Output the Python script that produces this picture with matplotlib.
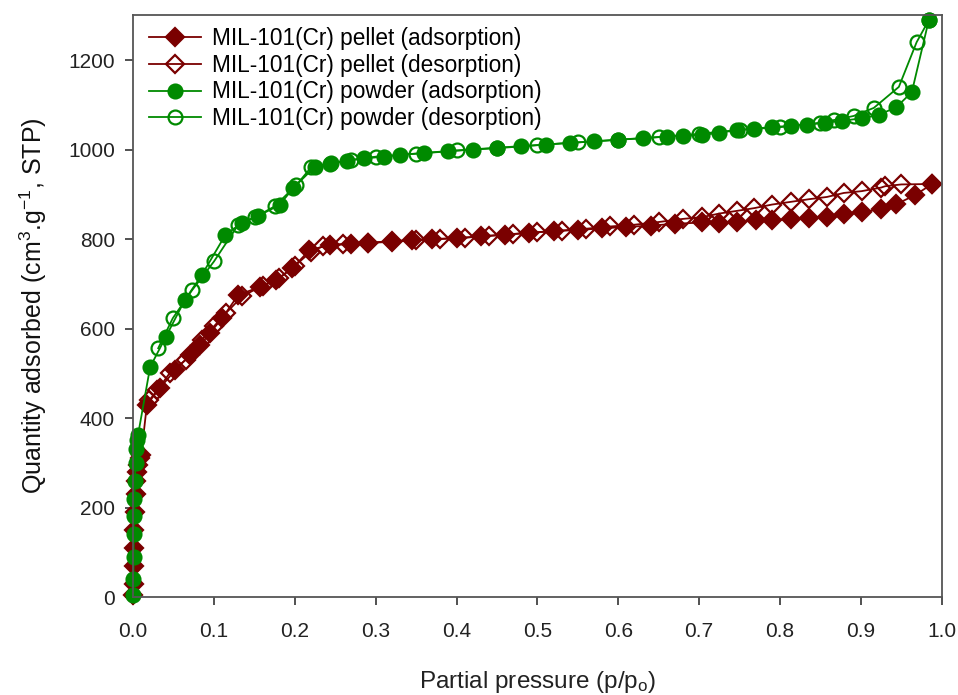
import matplotlib
matplotlib.use("Agg")
import matplotlib.pyplot as plt

plt.rcParams['font.family'] = ['Liberation Sans', 'DejaVu Sans']
plt.rcParams['mathtext.default'] = 'regular'

# Pellet adsorption
pel_ads_p = [0.0003, 0.0005, 0.0008, 0.001, 0.0015, 0.002, 0.003, 0.004, 0.005, 0.006, 0.008, 0.010,
             0.017, 0.033, 0.052, 0.07, 0.083, 0.095, 0.11, 0.13, 0.157, 0.177, 0.197, 0.218, 0.243,
             0.27, 0.29, 0.32, 0.345, 0.37, 0.4, 0.43, 0.46, 0.49, 0.52, 0.55, 0.58, 0.61, 0.64, 0.67,
             0.704, 0.725, 0.747, 0.77, 0.79, 0.813, 0.836, 0.858, 0.879, 0.901, 0.925, 0.944, 0.967, 0.988]
pel_ads_q = [5, 30, 70, 110, 150, 190, 230, 260, 280, 295, 310, 318,
             430, 467, 507, 540, 563, 590, 623, 675, 693, 708, 735, 775, 787,
             790, 792, 795, 798, 800, 802, 806, 810, 814, 818, 820, 824, 827, 830, 834,
             837, 835, 838, 842, 842, 844, 847, 849, 856, 860, 867, 878, 898, 923]

# Pellet desorption
pel_des_p = [0.988, 0.95, 0.93, 0.925, 0.901, 0.879, 0.858, 0.836, 0.813, 0.79, 0.768, 0.747, 0.725,
             0.704, 0.68, 0.65, 0.62, 0.59, 0.56, 0.53, 0.5, 0.47, 0.44, 0.41, 0.38, 0.35, 0.32, 0.29,
             0.26, 0.235, 0.22, 0.2, 0.18, 0.16, 0.135, 0.115, 0.1, 0.085, 0.065, 0.045, 0.03, 0.02]
pel_des_q = [923, 922, 918, 915, 907, 903, 894, 889, 883, 877, 869, 863, 857,
             849, 845, 838, 832, 828, 823, 819, 815, 811, 807, 803, 800, 797, 794, 791,
             788, 784, 772, 740, 712, 696, 672, 635, 605, 575, 530, 500, 462, 440]

# Powder adsorption
pow_ads_p = [0.0002, 0.0004, 0.0006, 0.0008, 0.001, 0.0015, 0.002, 0.003, 0.004, 0.005, 0.006,
             0.021, 0.04, 0.064, 0.085, 0.114, 0.134, 0.155, 0.181, 0.198, 0.225, 0.243, 0.265, 0.285,
             0.31, 0.33, 0.36, 0.39, 0.42, 0.45, 0.48, 0.51, 0.54, 0.57, 0.6, 0.63, 0.66, 0.68,
             0.704, 0.725, 0.747, 0.768, 0.79, 0.813, 0.833, 0.856, 0.877, 0.901, 0.922, 0.944, 0.963, 0.984]
pow_ads_q = [5, 40, 90, 140, 180, 220, 260, 300, 330, 350, 362,
             514, 580, 664, 720, 809, 836, 852, 876, 914, 962, 968, 975, 980,
             984, 988, 992, 996, 1000, 1003, 1007, 1011, 1015, 1018, 1022, 1025, 1029, 1031,
             1032, 1038, 1043, 1047, 1050, 1053, 1055, 1060, 1064, 1070, 1077, 1095, 1128, 1289]

# Powder desorption
pow_des_p = [0.984, 0.969, 0.947, 0.916, 0.891, 0.867, 0.85, 0.8, 0.75, 0.7, 0.65, 0.6, 0.55, 0.5,
             0.45, 0.4, 0.35, 0.3, 0.27, 0.245, 0.22, 0.202, 0.175, 0.151, 0.13, 0.1, 0.073, 0.049, 0.031]
pow_des_q = [1289, 1240, 1140, 1093, 1075, 1066, 1060, 1050, 1044, 1035, 1028, 1022, 1016, 1010,
             1004, 998, 991, 984, 977, 970, 960, 921, 873, 849, 832, 750, 686, 623, 556]

labels = ['MIL-101(Cr) pellet (adsorption)', 'MIL-101(Cr) pellet (desorption)',
          'MIL-101(Cr) powder (adsorption)', 'MIL-101(Cr) powder (desorption)']

red = '#7a0000'
green = '#008a00'

fig = plt.figure(figsize=(9.58, 6.95), dpi=100)
ax = fig.add_axes([0.139, 0.141, 0.844, 0.837])

common = dict(lw=1.3, mew=1.6, clip_on=False)
ax.plot(pel_ads_p, pel_ads_q, '-D', color=red, ms=9, mfc=red, mec=red, label=labels[0], **common)
ax.plot(pel_des_p, pel_des_q, '-D', color=red, ms=9, mfc='none', mec=red, label=labels[1], **common)
ax.plot(pow_ads_p, pow_ads_q, '-o', color=green, ms=10, mfc=green, mec=green, label=labels[2], **common)
ax.plot(pow_des_p, pow_des_q, '-o', color=green, ms=10, mfc='none', mec=green, label=labels[3], **common)

ax.set_xlim(0, 1.0)
ax.set_ylim(0, 1300)
ax.set_xticks([i / 10 for i in range(11)])
ax.set_xticklabels(['%.1f' % (i / 10) for i in range(11)])
ax.set_yticks(range(0, 1201, 200))
ax.tick_params(direction='out', length=6, width=1.1, labelsize=15, colors='#222222')
ax.tick_params(axis='x', pad=12)
ax.tick_params(axis='y', pad=7)
for s in ax.spines.values():
    s.set_color('#555555')
    s.set_linewidth(1.3)

ax.set_xlabel('Partial pressure (p/p$_o$)', fontsize=17.5, labelpad=20, color='#222222')
ax.set_ylabel('Quantity adsorbed (cm$^3$.g$^{-1}$, STP)', fontsize=18, labelpad=14, color='#111111')

leg = ax.legend(loc='upper left', bbox_to_anchor=(0.012, 0.99), frameon=False, fontsize=16.3,
                handlelength=2.3, borderaxespad=0.0, borderpad=0.25, labelspacing=0.17,
                handletextpad=0.5, markerscale=1.0)

fig.savefig('out.png', dpi=100)
